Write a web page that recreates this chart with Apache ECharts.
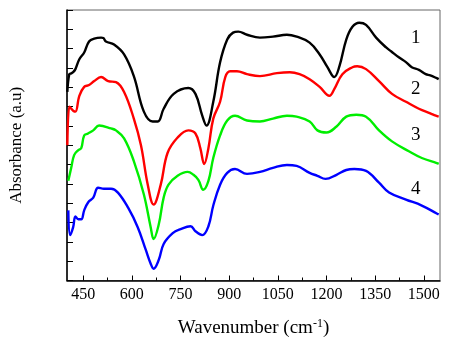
<!DOCTYPE html>
<html>
<head>
<meta charset="utf-8">
<script src="https://cdn.jsdelivr.net/npm/echarts@6/dist/echarts.min.js"></script>
<style>html,body{margin:0;padding:0;background:#fff}#c{width:450px;height:343px}</style>
</head>
<body>
<div id="c"></div>
<script>
// x tick labels
var xMajorTicks = [450, 600, 750, 900, 1050, 1200, 1350, 1500];
var xMinorTicks = [525, 675, 825, 975, 1125, 1275, 1425];
var seriesNames = ['1', '2', '3', '4'];

// Curve 1 (black)
var w1 = [401,407,413,419,426,438,453,468,484,505,512,520,545,576,606,637,664,680,698,729,774,796,817,830,851,872,894,912,928,955,995,1035,1078,1108,1148,1179,1203,1224,1240,1261,1280,1301,1322,1353,1384,1400,1423,1445,1463,1485,1506,1520,1540,1546];
var v1 = [9.76,10.68,10.72,10.78,10.94,11.45,11.80,12.37,12.52,12.57,12.55,12.37,12.21,11.70,10.58,8.74,8.23,8.23,8.89,9.66,9.96,9.66,8.53,8.02,9.25,11.29,12.47,12.83,12.88,12.72,12.57,12.62,12.72,12.62,12.31,11.70,11.04,10.53,11.09,12.47,13.13,13.34,13.23,12.57,12.06,11.85,11.55,11.30,11.04,10.90,10.68,10.62,10.47,10.42];

// Curve 2 (red)
var w2 = [401,407,413,419,426,438,453,468,484,505,527,551,576,606,628,649,667,689,710,741,774,796,811,823,836,851,872,888,903,924,955,995,1047,1087,1117,1148,1179,1209,1224,1249,1280,1295,1322,1362,1402,1445,1485,1520,1537,1546];
var v2 = [7.00,8.99,8.90,8.79,8.74,9.56,10.02,10.12,10.32,10.53,10.32,10.27,9.76,8.38,7.00,4.96,3.93,4.96,6.60,7.40,7.77,7.61,6.85,6.03,6.85,8.38,9.25,10.53,10.83,10.83,10.68,10.58,10.73,10.78,10.68,10.42,10.02,9.56,9.91,10.68,11.04,11.09,10.94,10.32,9.66,9.25,8.89,8.65,8.53,8.48];

// Curve 3 (green)
var w3 = [404,413,422,435,444,453,465,481,499,536,551,576,606,637,658,667,683,698,713,741,772,790,805,820,836,851,872,894,918,955,995,1035,1078,1108,1148,1172,1200,1231,1261,1292,1322,1362,1402,1454,1494,1540,1546];
var v3 = [5.16,5.83,6.49,6.75,6.85,7.51,7.61,7.77,8.02,7.87,7.77,7.36,6.18,4.45,2.76,2.15,2.91,4.29,4.96,5.42,5.62,5.47,5.21,4.70,5.16,6.34,7.51,8.28,8.53,8.28,8.23,8.38,8.53,8.48,8.23,7.77,7.66,7.97,8.48,8.58,8.48,7.77,7.20,6.69,6.34,6.08,6.04];

// Curve 4 (blue)
var w4 = [404,410,419,426,435,444,453,465,481,496,514,536,557,588,618,643,658,667,683,698,726,750,781,796,817,836,851,872,894,918,955,995,1035,1078,1108,1148,1172,1197,1231,1261,1286,1322,1362,1393,1445,1494,1540,1546];
var v4 = [3.63,2.35,2.76,3.32,3.17,3.17,3.63,4.04,4.29,4.80,4.75,4.75,4.55,3.78,2.76,1.58,0.87,0.61,1.07,1.89,2.45,2.66,2.81,2.55,2.35,2.81,3.88,4.96,5.57,5.77,5.52,5.62,5.83,5.98,5.93,5.57,5.42,5.26,5.47,5.72,5.77,5.67,5.06,4.55,4.19,3.88,3.47,3.42];

var colors = ['#000000', '#ff0000', '#00ee00', '#0000ff'];
var ws = [w1, w2, w3, w4], vs = [v1, v2, v3, v4];

function pairs(w, v) { return w.map(function (x, i) { return [x, v[i]]; }); }

var serif = 'Liberation Serif, Times New Roman, serif';
var chart = echarts.init(document.getElementById('c'));
chart.setOption({
  animation: false,
  backgroundColor: '#fff',
  grid: { left: 66, right: 10, top: 10, bottom: 59, show: true, borderColor: '#666', borderWidth: 1 },
  xAxis: [{
    type: 'value', min: 400, max: 1550, position: 'bottom',
    axisLine: { lineStyle: { color: '#000', width: 1.5 } },
    axisTick: { inside: true, length: 5, customValues: xMajorTicks, lineStyle: { color: '#000' } },
    axisLabel: { customValues: xMajorTicks, formatter: function (v) { return String(v); }, color: '#000', fontFamily: serif, fontSize: 16, margin: 6 },
    splitLine: { show: false },
    name: '{a|Wavenumber (cm}{s|-1}{a|)}',
    nameLocation: 'middle', nameGap: 37,
    nameTextStyle: {
      rich: {
        a: { fontFamily: serif, fontSize: 19, color: '#000' },
        s: { fontFamily: serif, fontSize: 12, color: '#000', padding: [0, 0, 10, 0] }
      }
    }
  }, {
    type: 'value', min: 400, max: 1550, position: 'bottom', gridIndex: 0,
    axisLine: { show: false },
    axisTick: { inside: true, length: 3, customValues: xMinorTicks, lineStyle: { color: '#000' } },
    axisLabel: { show: false },
    splitLine: { show: false }
  }],
  yAxis: {
    type: 'value', min: 0, max: 14, interval: 1,
    axisLine: { show: true, lineStyle: { color: '#000', width: 1.5 } },
    axisTick: { show: true, inside: true, length: 6, lineStyle: { color: '#000' } },
    axisLabel: { show: false },
    splitLine: { show: false },
    name: 'Absorbance (a.u)', nameLocation: 'middle', nameGap: 42,
    nameTextStyle: { fontFamily: serif, fontSize: 17, color: '#000' }
  },
  series: ws.map(function (w, i) {
    return {
      name: seriesNames[i], type: 'line', xAxisIndex: 0, showSymbol: false, symbol: 'none',
      smooth: 0.4, data: pairs(w, vs[i]),
      lineStyle: { color: colors[i], width: 2.4 }
    };
  }),
  graphic: [
    { type: 'text', left: 411, top: 29, style: { text: seriesNames[0], font: '19px ' + serif, fill: '#000' } },
    { type: 'text', left: 411, top: 80, style: { text: seriesNames[1], font: '19px ' + serif, fill: '#000' } },
    { type: 'text', left: 411, top: 126, style: { text: seriesNames[2], font: '19px ' + serif, fill: '#000' } },
    { type: 'text', left: 411, top: 180, style: { text: seriesNames[3], font: '19px ' + serif, fill: '#000' } }
  ]
});
</script>
</body>
</html>
